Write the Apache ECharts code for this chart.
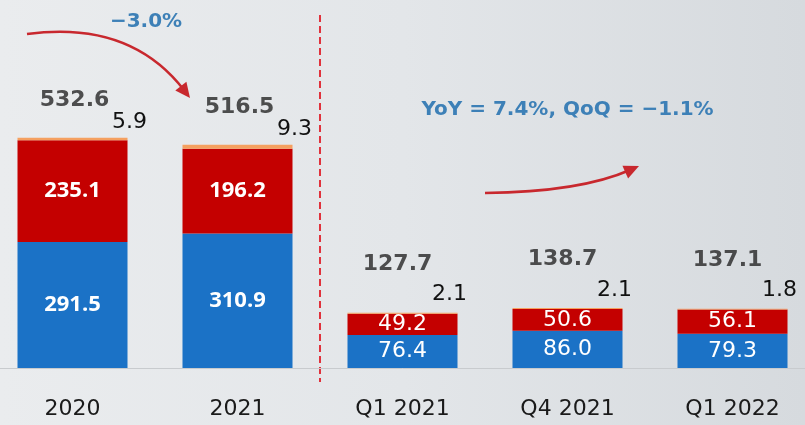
<!DOCTYPE html>
<html>
<head>
<meta charset="utf-8">
<script src="https://cdn.jsdelivr.net/npm/echarts@6/dist/echarts.min.js"></script>
<style>
  html, body { margin: 0; padding: 0; overflow: hidden; }
  body {
    width: 805px;
    height: 425px;
    background: linear-gradient(90deg, #eaecee 0%, #e3e6e9 50%, #d6dade 100%);
  }
  /* chart is a bit wider than the page so the outer bands run off the edges */
  #chart { width: 825px; height: 425px; margin-left: -10px; }
</style>
</head>
<body>
<div id="chart"></div>
<script>
// categories and values
const categories = ['2020', '2021', 'Q1 2021', 'Q4 2021', 'Q1 2022']
const blueVals = [291.5, 310.9, 76.4, 86.0, 79.3]
const redVals = [235.1, 196.2, 49.2, 50.6, 56.1]
const orangeVals = [5.9, 9.3, 2.1, 2.1, 1.8]
const totals = [532.6, 516.5, 127.7, 138.7, 137.1]
const annualNote = '−3.0%'
const quarterNote = 'YoY = 7.4%, QoQ = −1.1%'

const BLUE = '#1b72c6'
const RED = '#c40000'
const ORANGE = '#f5a060'
const NOTE = '#3d80b7'
const ARROW = '#c8282e'
const SHIFT = 10 // div is shifted left by this many px

const chart = echarts.init(document.getElementById('chart'))

const isAnnual = i => i < 2

function insideLabel(i) {
  return isAnnual(i)
    ? { fontFamily: 'Open Sans', fontWeight: 'bold', fontSize: 22 }
    : { fontFamily: 'DejaVu Sans', fontWeight: 'normal', fontSize: 22 }
}

// little arrowhead polygon from tip + direction
function arrowHead(tip, dir, len, half) {
  const l = Math.hypot(dir[0], dir[1])
  const ux = dir[0] / l, uy = dir[1] / l
  const bx = tip[0] - ux * len, by = tip[1] - uy * len
  return [tip, [bx - uy * half, by + ux * half], [bx + uy * half, by - ux * half]]
}

function buildOption() {
  return {
    animation: false,
    backgroundColor: 'transparent',
    grid: { left: 0, right: 0, top: 22, bottom: 57 },
    xAxis: {
      type: 'category',
      data: categories,
      axisLine: { lineStyle: { color: '#c8cbce', width: 1 } },
      axisTick: { show: false },
      axisLabel: {
        color: '#1a1a1a', fontFamily: 'DejaVu Sans', fontSize: 22, margin: 30
      }
    },
    yAxis: {
      type: 'value', min: 0, max: 800, show: false,
      splitLine: { show: false }
    },
    series: [
      {
        name: 'blue', type: 'bar', stack: 'a', barWidth: 110,
        itemStyle: { color: BLUE },
        data: blueVals.map((v, i) => ({
          value: v,
          label: Object.assign({
            show: true, position: 'inside', color: '#fff',
            formatter: p => p.value.toFixed(1)
          }, insideLabel(i))
        }))
      },
      {
        name: 'red', type: 'bar', stack: 'a', barWidth: 110,
        itemStyle: { color: RED },
        data: redVals.map((v, i) => ({
          value: v,
          label: Object.assign({
            show: true, position: 'inside', color: '#fff',
            formatter: p => p.value.toFixed(1)
          }, insideLabel(i))
        }))
      },
      {
        name: 'orange', type: 'bar', stack: 'a', barWidth: 110,
        itemStyle: { color: ORANGE },
        data: orangeVals.map((v, i) => ({
          value: v,
          label: {
            show: true, position: 'top', color: '#111',
            fontFamily: 'DejaVu Sans', fontSize: 22,
            formatter: p => p.value.toFixed(1),
            offset: isAnnual(i) ? [57, 1] : [47, -2]
          }
        }))
      },
      {
        name: 'total', type: 'scatter', symbolSize: 1,
        itemStyle: { color: 'rgba(0,0,0,0)' },
        data: totals.map((v, i) => ({
          value: [categories[i], v],
          label: {
            show: true, position: 'top', color: '#262626',
            fontFamily: 'DejaVu Sans', fontWeight: 'bold', fontSize: 22,
            formatter: p => p.value[1].toFixed(1),
            offset: isAnnual(i) ? [2, -21] : [-5, -32]
          }
        }))
      }
    ]
  }
}

chart.setOption(buildOption())

// divider + notes + arrows, placed from the axis afterwards
const xA = chart.convertToPixel({ xAxisIndex: 0 }, categories[1])
const xB = chart.convertToPixel({ xAxisIndex: 0 }, categories[2])
const xMid = (xA + xB) / 2
const xQ = chart.convertToPixel({ xAxisIndex: 0 }, categories[3])

const S = SHIFT
const a1 = { x1: 27 + S, y1: 34, cpx1: 130 + S, cpy1: 20, x2: 184 + S, y2: 90 }
const a2 = { x1: 485 + S, y1: 193, cpx1: 580 + S, cpy1: 192, x2: 630 + S, y2: 170 }

chart.setOption({
  graphic: [
    {
      type: 'line', silent: true,
      shape: { x1: xMid, y1: 15, x2: xMid, y2: 382 },
      style: { stroke: '#e0323c', lineWidth: 2, lineDash: [7, 4] }
    },
    {
      type: 'text', x: 146 + S, y: 22,
      style: {
        text: annualNote, fill: NOTE, fontFamily: 'DejaVu Sans',
        fontWeight: 'bold', fontSize: 20, align: 'center', verticalAlign: 'middle'
      }
    },
    {
      type: 'text', x: xQ, y: 110,
      style: {
        text: quarterNote, fill: NOTE, fontFamily: 'DejaVu Sans',
        fontWeight: 'bold', fontSize: 20, align: 'center', verticalAlign: 'middle'
      }
    },
    {
      type: 'bezierCurve', silent: true, shape: a1,
      style: { stroke: ARROW, lineWidth: 2.5, fill: null }
    },
    {
      type: 'polygon', silent: true,
      shape: { points: arrowHead([190 + S, 98], [a1.x2 - a1.cpx1, a1.y2 - a1.cpy1], 15, 7) },
      style: { fill: ARROW }
    },
    {
      type: 'bezierCurve', silent: true, shape: a2,
      style: { stroke: ARROW, lineWidth: 2.5, fill: null }
    },
    {
      type: 'polygon', silent: true,
      shape: { points: arrowHead([639 + S, 166], [a2.x2 - a2.cpx1, a2.y2 - a2.cpy1], 15, 7) },
      style: { fill: ARROW }
    }
  ]
})

window.addEventListener('resize', () => chart.resize())
</script>
</body>
</html>
